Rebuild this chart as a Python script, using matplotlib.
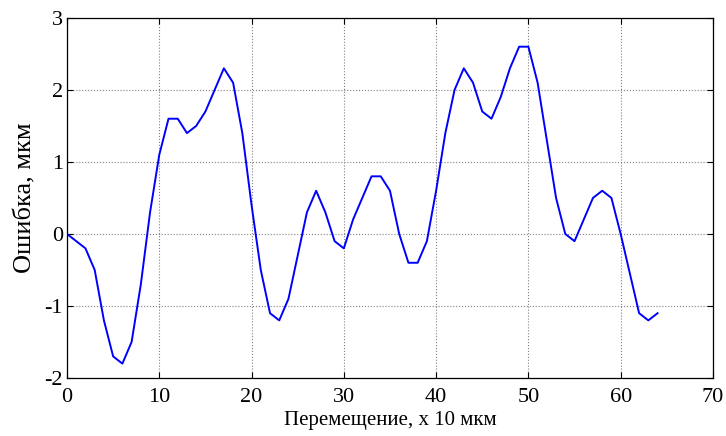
import matplotlib
matplotlib.use('Agg')
import matplotlib.pyplot as plt

plt.rcParams['font.family'] = ['Liberation Serif', 'DejaVu Serif']
plt.rcParams['axes.unicode_minus'] = False

# displacement (x 10 um) and error (um)
x_pos = list(range(0, 65))
err = [0.0, -0.1, -0.2, -0.5, -1.2, -1.7, -1.8, -1.5, -0.7, 0.3,
       1.1, 1.6, 1.6, 1.4, 1.5, 1.7, 2.0, 2.3, 2.1, 1.4,
       0.4, -0.5, -1.1, -1.2, -0.9, -0.3, 0.3, 0.6, 0.3, -0.1,
       -0.2, 0.2, 0.5, 0.8, 0.8, 0.6, 0.0, -0.4, -0.4, -0.1,
       0.6, 1.4, 2.0, 2.3, 2.1, 1.7, 1.6, 1.9, 2.3, 2.6,
       2.6, 2.1, 1.3, 0.5, 0.0, -0.1, 0.2, 0.5, 0.6, 0.5,
       0.0, -0.55, -1.1, -1.2, -1.1]

x_ticks = [0, 10, 20, 30, 40, 50, 60, 70]
y_ticks = [-2, -1, 0, 1, 2, 3]

fig = plt.figure(figsize=(7.26, 4.36), dpi=100)
ax = fig.add_axes([0.0923, 0.133, 0.8897, 0.826])

ax.plot(x_pos, err, color='#0000ff', linewidth=1.4)

ax.set_xlim(0, 70)
ax.set_ylim(-2, 3)
ax.set_xticks(x_ticks)
ax.set_yticks(y_ticks)
ax.grid(True, color='#808080', linestyle=':', linewidth=0.8)
ax.tick_params(direction='in', length=4, width=0.8, top=True, right=True,
               labelsize=16)
ax.tick_params(axis='x', pad=7)
ax.tick_params(axis='y', pad=3)
for sp in ax.spines.values():
    sp.set_linewidth(0.9)

ax.set_xlabel('Перемещение, x 10 мкм', fontsize=15, labelpad=3)
ax.set_ylabel('Ошибка, мкм', fontsize=19, labelpad=6)

fig.savefig('out.png', dpi=100)
